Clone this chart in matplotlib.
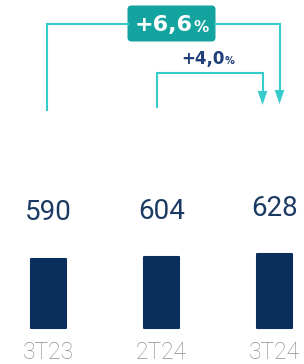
"""Bar chart of quarterly values with growth arrows."""

import matplotlib
matplotlib.use('Agg')
import matplotlib.pyplot as plt
from matplotlib.patches import FancyBboxPatch, Polygon


# Data
categories = ['3T23', '2T24', '3T24']
values = [590, 604, 628]
growth_labels = ['+6,6', '+4,0']

# Colours
bar_color = '#0a2f5c'
value_color = '#1b3a63'
cat_color = '#8f8f8f'
line_color = '#36cccc'
box_color = '#13a4a0'
small_label_color = '#203f7a'

W, H = 304, 364

fig = plt.figure(figsize=(W / 100, H / 100), dpi=100, facecolor='white')
ax = fig.add_axes([0, 0, 1, 1], frameon=False)

xs = list(range(len(categories)))
ax.bar(xs, values, width=0.31, color=bar_color, edgecolor=bar_color,
       linewidth=1.5, joinstyle='round')
ax.set_xlim(-0.429, 2.261)
ax.set_ylim(-305, 2784)
ax.set_xticks([])
ax.set_yticks([])

for x, v, c in zip(xs, values, categories):
    ax.annotate(str(v), (x, v), xytext=(0, 33), textcoords='offset points',
                ha='center', va='center', fontsize=20, color=value_color,
                family='Roboto')
    ax.annotate(c, (x, 0), xytext=(0, -17.5), textcoords='offset points',
                ha='center', va='center', fontsize=16.5, color=cat_color,
                family='Roboto', fontweight='light')

# overlay in pixel coordinates for the growth arrows
ov = fig.add_axes([0, 0, 1, 1], frameon=False)
ov.set_xlim(0, W)
ov.set_ylim(H, 0)
ov.set_xticks([])
ov.set_yticks([])


def px_x(i):
    return ax.transData.transform((i, 0))[0] * 100 / fig.dpi


def arrow_head(x, tip_y):
    ov.add_patch(Polygon([(x - 4.8, tip_y - 14), (x + 4.8, tip_y - 14), (x, tip_y)],
                         closed=True, color=line_color, lw=0))


# big arrow 3T23 -> 3T24
x0 = px_x(0) - 1.5
x1 = px_x(2) + 5
ov.plot([x0, x0, 128], [110, 24, 24], color=line_color, lw=1.5, solid_joinstyle='miter')
ov.plot([215, x1, x1], [24, 24, 92], color=line_color, lw=1.5, solid_joinstyle='miter')
arrow_head(x1, 104)
ov.add_patch(FancyBboxPatch((130, 8), 83, 31, boxstyle='round,pad=2.5,rounding_size=4',
                            color=box_color, lw=0))
ov.text(193, 25, growth_labels[0], ha='right', va='center', fontsize=16,
        color='white', family='DejaVu Sans', fontweight='bold')
ov.text(193, 27, '%', ha='left', va='center', fontsize=11,
        color='white', family='DejaVu Sans', fontweight='bold')

# small arrow 2T24 -> 3T24
x2 = px_x(1) - 4.5
x3 = px_x(2) - 12
ov.plot([x2, x2, x3, x3], [107, 73, 73, 92], color=line_color, lw=1.5,
        solid_joinstyle='miter')
arrow_head(x3, 105)
ov.text(225, 59, growth_labels[1], ha='right', va='center', fontsize=12,
        color=small_label_color, family='DejaVu Sans', fontweight='bold')
ov.text(225, 61, '%', ha='left', va='center', fontsize=7,
        color=small_label_color, family='DejaVu Sans', fontweight='bold')

fig.savefig('out.png', dpi=100, facecolor='white')
